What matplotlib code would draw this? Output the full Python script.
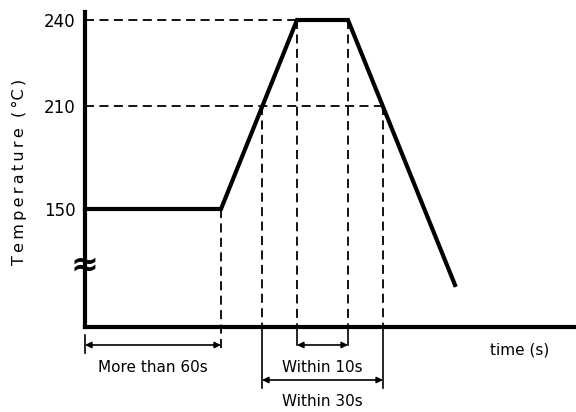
import matplotlib
matplotlib.use("Agg")
import matplotlib.pyplot as plt

# schematic reflow profile: time (drawing units) vs temperature level (drawing units)
PROFILE_TIME = [0, 136, 212, 263, 370]
PROFILE_LEVEL = [118, 118, 307, 307, 42]

TEMP_LABELS = ["150", "210", "240"]
TEMP_LEVELS = [118, 221, 307]

# times where the profile crosses 210 and 240
T210_UP, T210_DOWN = 177, 298
T240_START, T240_END = 212, 263

# interval annotations: label, start, end
INTERVALS = [
    ("More than 60s", 0, 136),
    ("Within 10s", T240_START, T240_END),
    ("Within 30s", T210_UP, T210_DOWN),
]

BLACK = "black"


def main():
    fig = plt.figure(figsize=(5.76, 4.12), dpi=100)
    ax = fig.add_axes([85 / 576, 85 / 412, 491 / 576, 315 / 412])
    ax.set_xlim(0, 491)
    ax.set_ylim(0, 315)

    for side in ["top", "right"]:
        ax.spines[side].set_visible(False)
    for side in ["left", "bottom"]:
        ax.spines[side].set_linewidth(3)
        ax.spines[side].set_color(BLACK)
        ax.spines[side].set_capstyle("projecting")

    ax.set_xticks([])
    ax.set_yticks(TEMP_LEVELS)
    ax.set_yticklabels(TEMP_LABELS, fontsize=12)
    ax.tick_params(axis="y", length=0, pad=7)

    ylabel = "\u2009".join("Temperature") + "  (\u2009°C\u2009)"
    ax.set_ylabel(ylabel, fontsize=11.5)
    ax.yaxis.set_label_coords(-58 / 491, (327 - 172) / 315)

    # profile
    ax.plot(PROFILE_TIME, PROFILE_LEVEL, color=BLACK, lw=3, solid_joinstyle="miter",
            clip_on=False, zorder=3)

    dash = dict(color=BLACK, lw=1.3, ls=(0, (5, 3)), clip_on=False, zorder=2)
    solid = dict(color=BLACK, lw=1.2, clip_on=False, zorder=2)

    # horizontal guides at 240 and 210
    ax.plot([0, T240_END], [TEMP_LEVELS[2]] * 2, **dash)
    ax.plot([0, T210_DOWN], [TEMP_LEVELS[1]] * 2, **dash)

    # vertical guides
    ax.plot([136, 136], [TEMP_LEVELS[0], -26], **dash)
    ax.plot([T210_UP, T210_UP], [TEMP_LEVELS[1], 0], **dash)
    ax.plot([T210_DOWN, T210_DOWN], [TEMP_LEVELS[1], 0], **dash)
    ax.plot([T240_START, T240_START], [TEMP_LEVELS[2], 0], **dash)
    ax.plot([T240_END, T240_END], [TEMP_LEVELS[2], 0], **dash)

    # extension lines below the axis
    ax.plot([0, 0], [-8, -26], **solid)
    ax.plot([T210_UP, T210_UP], [0, -61], **solid)
    ax.plot([T210_DOWN, T210_DOWN], [0, -61], **solid)
    ax.plot([T240_START, T240_START], [0, -18], **solid)
    ax.plot([T240_END, T240_END], [0, -18], **solid)

    arrow_y = [-18, -18, -53]
    text_y = [-41, -41, -75]
    for (label, t0, t1), ay, ty in zip(INTERVALS, arrow_y, text_y):
        ax.annotate("", xy=(t0, ay), xytext=(t1, ay),
                    arrowprops=dict(arrowstyle="<|-|>", color=BLACK, lw=1.2,
                                    mutation_scale=9, shrinkA=0, shrinkB=0),
                    annotation_clip=False)
        ax.text((t0 + t1) / 2, ty, label, ha="center", va="center", fontsize=11,
                clip_on=False)

    ax.text(435, -23, "time (s)", ha="center", va="center", fontsize=11, clip_on=False)

    # axis break mark
    ax.text(0, 62, "≈", ha="center", va="center", fontsize=24, fontweight="bold",
            clip_on=False, zorder=4)

    fig.savefig("out.png", dpi=100)


if __name__ == "__main__":
    main()
